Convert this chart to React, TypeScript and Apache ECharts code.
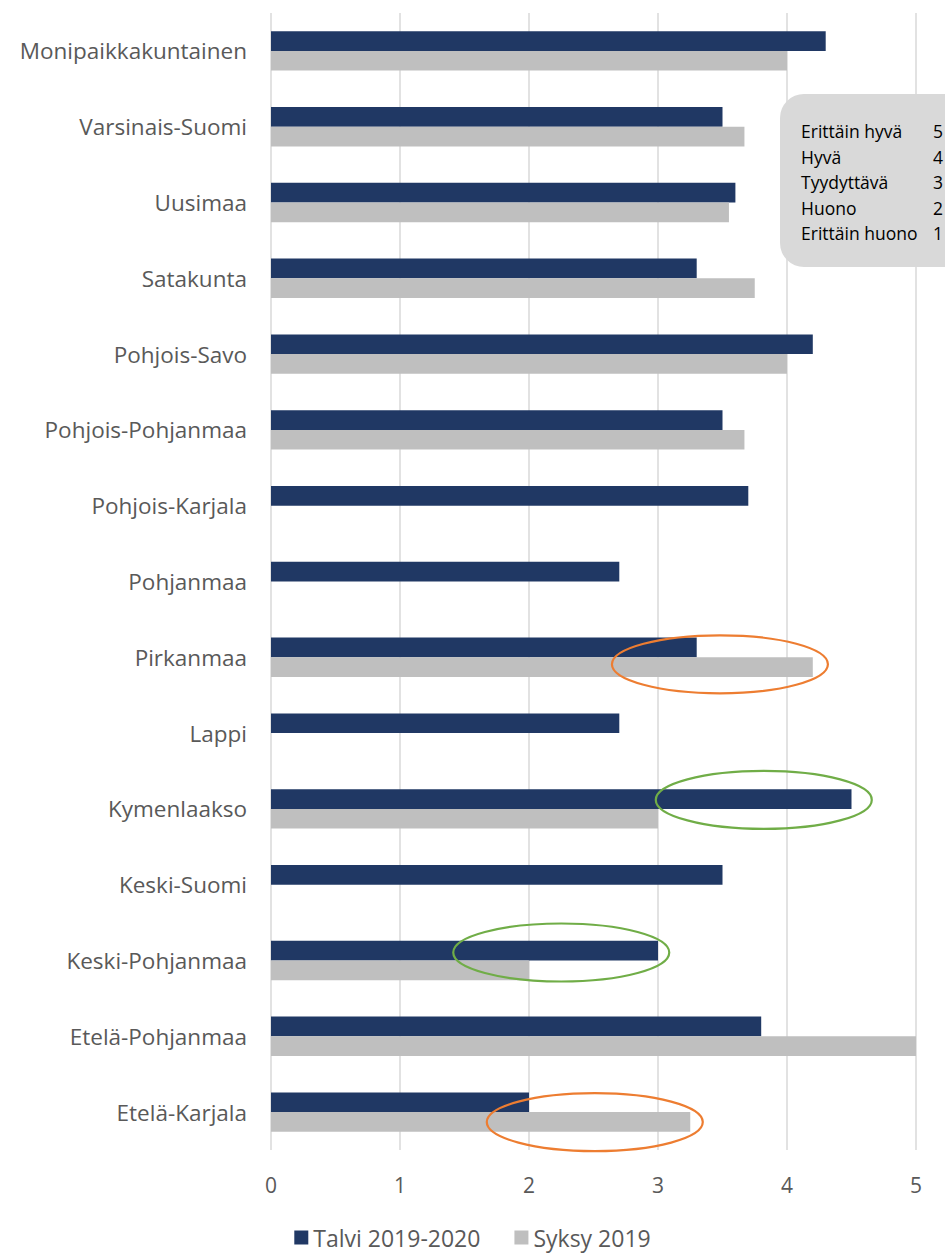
import React, { useEffect, useRef } from "react";
import * as echarts from "echarts";

const categories = [
  "Monipaikkakuntainen",
  "Varsinais-Suomi",
  "Uusimaa",
  "Satakunta",
  "Pohjois-Savo",
  "Pohjois-Pohjanmaa",
  "Pohjois-Karjala",
  "Pohjanmaa",
  "Pirkanmaa",
  "Lappi",
  "Kymenlaakso",
  "Keski-Suomi",
  "Keski-Pohjanmaa",
  "Etelä-Pohjanmaa",
  "Etelä-Karjala",
];

const talvi = [4.3, 3.5, 3.6, 3.3, 4.2, 3.5, 3.7, 2.7, 3.3, 2.7, 4.5, 3.5, 3.0, 3.8, 2.0];
const syksy: (number | null)[] = [4.0, 3.67, 3.55, 3.75, 4.0, 3.67, null, null, 4.2, null, 3.0, null, 2.0, 5.0, 3.25];

const seriesNames = ["Talvi 2019-2020", "Syksy 2019"];
const scaleLabels = ["Erittäin hyvä", "Hyvä", "Tyydyttävä", "Huono", "Erittäin huono"];
const scaleValues = ["5", "4", "3", "2", "1"];

// annotation ellipses: category, x centre (data), vertical offset (px), colour
const highlights = [
  { cat: "Pirkanmaa", x: 3.48, dy: 7, color: "#ED7D31" },
  { cat: "Kymenlaakso", x: 3.82, dy: -9, color: "#70AD47" },
  { cat: "Keski-Pohjanmaa", x: 2.25, dy: -8, color: "#70AD47" },
  { cat: "Etelä-Karjala", x: 2.51, dy: 10, color: "#ED7D31" },
];

const FONT = "'Open Sans', sans-serif";

export default function App() {
  const ref = useRef<HTMLDivElement>(null);
  useEffect(() => {
    if (!ref.current) return;
    const chart = echarts.init(ref.current, null, { renderer: "svg" });
    chart.setOption({
      animation: false,
      textStyle: { fontFamily: FONT },
      grid: { left: 271, right: 29, top: 13, bottom: 104, containLabel: false },
      xAxis: {
        type: "value",
        min: 0,
        max: 5,
        interval: 1,
        axisLine: { show: false },
        axisTick: { show: false },
        axisLabel: { color: "#595959", fontSize: 21, margin: 24, fontFamily: FONT },
        splitLine: { lineStyle: { color: "#D9D9D9", width: 1.5 } },
      },
      yAxis: {
        type: "category",
        data: categories,
        inverse: true,
        axisLine: { show: false },
        axisTick: { show: false },
        axisLabel: { color: "#595959", fontSize: 22.5, margin: 24, fontFamily: FONT },
      },
      legend: {
        bottom: 0,
        left: "center",
        itemWidth: 14,
        itemHeight: 14,
        itemGap: 34,
        itemStyle: { borderWidth: 0 },
        icon: "rect",
        textStyle: { color: "#595959", fontSize: 23, fontFamily: FONT },
        data: seriesNames,
      },
      series: [
        {
          name: seriesNames[0],
          type: "bar",
          data: talvi,
          itemStyle: { color: "#203864" },
          barGap: "0%",
          barCategoryGap: "48%",
        },
        {
          name: seriesNames[1],
          type: "bar",
          data: syksy.map((v) => (v == null ? "-" : v)),
          itemStyle: { color: "#BFBFBF" },
          barGap: "0%",
          barCategoryGap: "48%",
        },
      ],
    });

    const graphics: any[] = [];
    highlights.forEach((h) => {
      const p = chart.convertToPixel({ gridIndex: 0 }, [h.x, categories.indexOf(h.cat)]) as number[];
      graphics.push({
        type: "ellipse",
        shape: { cx: p[0], cy: p[1] + h.dy, rx: 108, ry: 29 },
        style: { fill: "none", stroke: h.color, lineWidth: 2.2 },
        z: 100,
      });
    });
    const boxChildren: any[] = [
      {
        type: "rect",
        shape: { x: 0, y: 0, width: 200, height: 173, r: 24 },
        style: { fill: "#D9D9D9" },
      },
    ];
    scaleLabels.forEach((t, i) => {
      boxChildren.push({
        type: "text",
        x: 21,
        y: 37 + i * 25.5,
        style: { text: t, fill: "#000000", font: `17.5px ${FONT}`, textVerticalAlign: "middle" },
      });
      boxChildren.push({
        type: "text",
        x: 163,
        y: 37 + i * 25.5,
        style: { text: scaleValues[i], fill: "#000000", font: `17.5px ${FONT}`, textAlign: "right", textVerticalAlign: "middle" },
      });
    });
    graphics.push({ type: "group", x: 780, y: 94, z: 90, children: boxChildren });
    chart.setOption({ graphic: graphics });
    return () => chart.dispose();
  }, []);
  return <div ref={ref} style={{ width: 945, height: 1254, position: "absolute", left: 0, top: 0 }} />;
}
